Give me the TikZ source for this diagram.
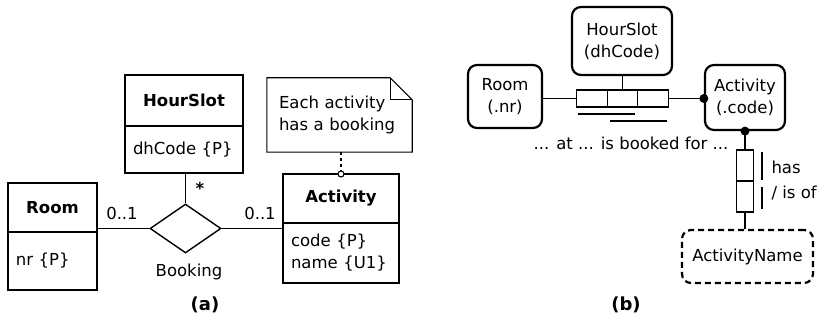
\documentclass[tikz,border=0pt]{standalone}
\usepackage{fontspec}
\setmainfont{DejaVu Sans}
\usetikzlibrary{calc,shapes.geometric}

\begin{document}
\begin{tikzpicture}[x=1pt,y=-1pt,font=\fontsize{16.5}{22}\selectfont]
    \tikzstyle{head}=[draw,line width=2.2pt,inner sep=0pt,outer sep=0pt,font=\fontsize{16.5}{22}\selectfont\bfseries]
    \tikzstyle{attr}=[draw,line width=2.2pt,inner xsep=8pt,inner ysep=0pt,outer sep=0pt,align=left,anchor=north]
    \tikzstyle{conn}=[line width=1.5pt]
    \tikzstyle{obj}=[draw,line width=2.2pt,rounded corners=9pt,inner sep=0pt,align=center]
    \tikzstyle{role}=[draw,line width=1.4pt,inner sep=0pt,outer sep=0pt]
    \tikzstyle{ubar}=[line width=2.4pt]
    \tikzstyle{caption}=[font=\fontsize{18}{22}\selectfont\bfseries]
    \useasboundingbox (0,0) rectangle (823,323);
    % (a) Classes
    \node[head,minimum width=118pt,minimum height=51pt] (hourslot) at (184,100.5) {HourSlot};
    \node[attr,text width=102pt,minimum height=47pt] (hourslot-attr) at (hourslot.south) {dhCode \{P\}};
    \node[head,minimum width=89pt,minimum height=49pt] (room) at (52.5,207.5) {Room};
    \node[attr,text width=73pt,minimum height=58pt] (room-attr) at (room.south) {nr \{P\}};
    \node[head,minimum width=116pt,minimum height=49pt] (activity) at (341,198.5) {Activity};
    \node[attr,text width=100pt,minimum height=60pt] (activity-attr) at (activity.south) {code \{P\}\\name \{U1\}};
    \node[draw,diamond,line width=1.4pt,minimum width=71pt,minimum height=49pt,inner sep=0pt] (booking) at (185.5,228.5) {};
    % (a) Association
    \draw[conn] (booking.west) -- (booking.west -| room.east);
    \draw[conn] (booking.east) -- (booking.east -| activity.west);
    \draw[conn] (booking.north) -- (booking.north |- hourslot-attr.south);
    \node (mult-room) at (122,213) {0..1};
    \node (mult-act) at (260,213) {0..1};
    \node[font=\fontsize{16.5}{22}\selectfont\bfseries] (mult-hour) at (200,188) {*};
    \node (booking-name) at (189,272) {Booking};
    % (a) Note
    \node[minimum width=145pt,minimum height=74pt,text width=121pt,inner xsep=12pt,align=left] (note) at (339.5,115) {Each activity\\has a booking};
    \draw[line width=1.1pt] (note.north west) -- ($(note.north east)+(-22,0)$) -- ($(note.north east)+(0,22)$) -- (note.south east) -- (note.south west) -- cycle;
    \draw[line width=1.1pt] ($(note.north east)+(-22,0)$) |- ($(note.north east)+(0,22)$);
    \draw[line width=1.1pt,dashed] (activity.north |- note.south) -- (activity.north);
    \draw[line width=1.1pt,fill=white] (activity.north) circle (3);
    \node[caption] (label-a) at (205,305) {(a)};
    % (b) Object types
    \node[obj,minimum width=100pt,minimum height=68pt] (hs) at (622,41) {HourSlot\\(dhCode)};
    \node[obj,minimum width=74pt,minimum height=63pt] (rm) at (505,96.5) {Room\\(.nr)};
    \node[obj,minimum width=80pt,minimum height=65pt] (act) at (745,97.5) {Activity\\(.code)};
    \node[obj,dashed,dash pattern=on 6pt off 4pt,minimum width=131pt,minimum height=53pt] (actname) at (747.5,256.5) {ActivityName};
    % (b) Ternary fact type
    \node[role,minimum width=30.5pt,minimum height=17pt] (r1) at (592,98.5) {};
    \node[role,minimum width=30.5pt,minimum height=17pt,anchor=west] (r2) at (r1.east) {};
    \node[role,minimum width=30.5pt,minimum height=17pt,anchor=west] (r3) at (r2.east) {};
    \draw[conn] (rm.east |- r1) -- (r1.west);
    \draw[conn] (r3.east) -- (r3.east -| act.west);
    \fill (r3.east -| act.west) circle (4.5);
    \draw[conn] (hs.south -| r2) -- (r2.north);
    \draw[ubar] ($(r1.south west)+(1,7)$) -- ($(r2.south east)+(-3,7)$);
    \draw[ubar] ($(r2.south west)+(3,14)$) -- ($(r3.south east)+(-1,14)$);
    \node (reading) at (631,143) {... at ... is booked for ...};
    % (b) Binary fact type
    \node[role,minimum width=17pt,minimum height=31pt] (r4) at (745,165.5) {};
    \node[role,minimum width=17pt,minimum height=31pt,anchor=north] (r5) at (r4.south) {};
    \draw[conn] (act.south) -- (r4.north);
    \fill (act.south) circle (4.5);
    \draw[conn] (r5.south) -- (r5.south |- actname.north);
    \draw[ubar,line width=2pt] ($(r4.north east)+(8.5,2)$) -- ($(r4.south east)+(8.5,-1)$);
    \draw[ubar,line width=2pt] ($(r5.north east)+(8.5,6)$) -- ($(r5.south east)+(8.5,-3)$);
    \node[anchor=west,align=left] (reading-bin) at (768,180) {has\\[3pt]/ is of};
    \node[caption] (label-b) at (626,305) {(b)};
\end{tikzpicture}
\end{document}
